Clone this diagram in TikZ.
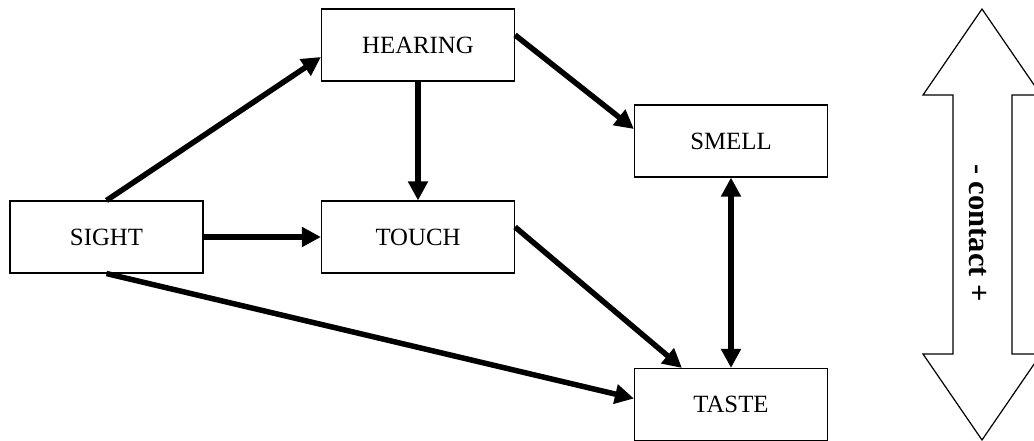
\documentclass[tikz,border=0pt]{standalone}
\usepackage{fontspec}
\setmainfont{Liberation Serif}
\usetikzlibrary{arrows.meta,calc}
\begin{document}
\begin{tikzpicture}[x=1pt,y=-1pt,
  sense/.style={draw=black,line width=1.1pt,rectangle,minimum width=193pt,minimum height=72pt,inner sep=0pt,
    font=\fontsize{24.8}{29}\selectfont},
  link/.style={line width=5.5pt,-{Triangle[length=19pt,width=19pt]}},
  biglink/.style={line width=5.5pt,{Triangle[length=19pt,width=19pt]}-{Triangle[length=19pt,width=19pt]}},
  bigarrow/.style={draw=black,line width=1.2pt,line join=miter,fill=white}]
\useasboundingbox (0,0) rectangle (1034,441);
\node[sense] (sight) at (106.5,237) {SIGHT};
\node[sense] (hearing) at (418,45) {HEARING};
\node[sense] (touch) at (418,237) {TOUCH};
\node[sense] (smell) at (731,141) {SMELL};
\node[sense] (taste) at (731,404.5) {TASTE};
\draw[link] (sight.north) -- ([yshift=-12pt]hearing.west);
\draw[link] (sight.east) -- (touch.west);
\draw[link] (hearing.south) -- (touch.north);
\draw[link] ([yshift=10pt]hearing.east) -- ([yshift=12pt]smell.west);
\draw[link] ([yshift=10pt]touch.east) -- ([xshift=48pt]taste.north west);
\draw[link] (sight.south) -- ([yshift=6pt]taste.west);
\draw[biglink] (smell.south) -- (taste.north);
\draw[bigarrow] (982,9) -- (1041,95) -- (1012,95) -- (1012,354) -- (1041,354) -- (982,440)
  -- (923,354) -- (953,354) -- (953,95) -- (923,95) -- cycle;
\node[rotate=-90,font=\bfseries\fontsize{30.5}{36}\selectfont] (contact) at (978,233) {- contact +};
\end{tikzpicture}
\end{document}
